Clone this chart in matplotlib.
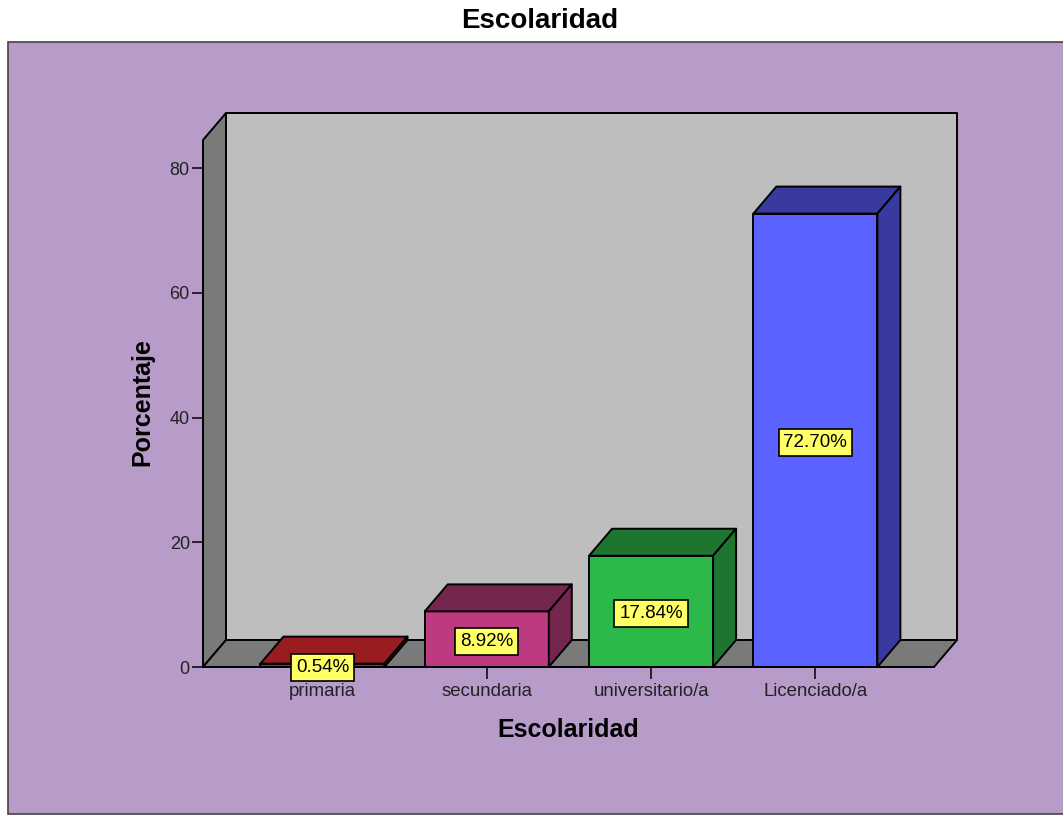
import matplotlib
matplotlib.use("Agg")
import matplotlib.pyplot as plt
from matplotlib.patches import Rectangle

plt.rcParams['font.family'] = ['Liberation Sans', 'DejaVu Sans']

categories = ['primaria', 'secundaria', 'universitario/a', 'Licenciado/a']
percentages = [0.54, 8.92, 17.84, 72.70]
y_ticks = [0, 20, 40, 60, 80]

front_colors = ['#C0201F', '#BC3A80', '#2DB84A', '#5C62FF']
shade_colors = ['#981C20', '#74264F', '#1E7530', '#383A9F']

W, H = 1063, 815
bar_width = 0.755
# depth of the fake 3D box, in data units
depth_x = 0.14
depth_y = 4.33

fig = plt.figure(figsize=(W / 100, H / 100), dpi=100, facecolor='white')

# purple chart area, kept behind the axes
fig.add_artist(Rectangle((8 / W, 1 / H), 1.1, (814 - 42) / H,
                         transform=fig.transFigure, facecolor='#B79BC9',
                         edgecolor='#444444', linewidth=1.2, zorder=-1))

# axes box covers the front face of the plot volume
ax = fig.add_axes([203 / W, (H - 667) / H, (934 - 203) / W, (667 - 140) / H])
ax.set_xlim(-0.727, 3.722)
ax.set_ylim(0, 84.5)
ax.patch.set_visible(False)
for s in ax.spines.values():
    s.set_visible(False)

x0, x1 = ax.get_xlim()
y0, y1 = ax.get_ylim()
edge = dict(edgecolor='black', linewidth=1.4, clip_on=False, joinstyle='round')

# back wall, left wall, floor
ax.fill([x0 + depth_x, x1 + depth_x, x1 + depth_x, x0 + depth_x],
        [y0 + depth_y, y0 + depth_y, y1 + depth_y, y1 + depth_y],
        facecolor='#BEBEBE', zorder=1, **edge)
ax.fill([x0, x0 + depth_x, x0 + depth_x, x0],
        [y0, y0 + depth_y, y1 + depth_y, y1],
        facecolor='#7A7A7A', zorder=1, **edge)
ax.fill([x0, x1, x1 + depth_x, x0 + depth_x],
        [y0, y0, y0 + depth_y, y0 + depth_y],
        facecolor='#7A7A7A', zorder=1, **edge)

# bars, left to right so the boxes overlap properly
for i, v in enumerate(percentages):
    l = i - bar_width / 2
    r = i + bar_width / 2
    ax.bar(i, v, width=bar_width, color=front_colors[i], edgecolor='black',
           linewidth=1.4, zorder=3, clip_on=False)
    ax.fill([l, r, r + depth_x, l + depth_x], [v, v, v + depth_y, v + depth_y],
            facecolor=shade_colors[i], zorder=3, **edge)
    ax.fill([r, r + depth_x, r + depth_x, r], [0, depth_y, v + depth_y, v],
            facecolor=shade_colors[i], zorder=3, **edge)
    ax.text(i, v / 2, '%.2f%%' % v, ha='center', va='center_baseline',
            fontsize=13.5, color='black', zorder=6,
            bbox=dict(boxstyle='square,pad=0.26', facecolor='#FFFF66',
                      edgecolor='black', linewidth=1.2))

ax.plot([x0, x1], [0, 0], color='black', lw=1.4, zorder=4, clip_on=False)

ax.set_xticks(range(len(categories)))
ax.set_xticklabels(categories)
ax.set_yticks(y_ticks)
ax.tick_params(axis='x', length=8.5, width=1.1, pad=3, labelsize=13.4,
               labelcolor='#222222')
ax.tick_params(axis='y', length=8, width=1.1, pad=1.5, labelsize=13,
               labelcolor='#222222')

fig.text(540 / W, 1 - 21 / H, 'Escolaridad', ha='center', va='center',
         fontsize=20, fontweight='bold')
fig.text(568 / W, 1 - 730 / H, 'Escolaridad', ha='center', va='center',
         fontsize=18, fontweight='bold')
fig.text(142 / W, 1 - 402 / H, 'Porcentaje', ha='center', va='center',
         rotation=90, fontsize=18, fontweight='bold')

fig.savefig('out.png', dpi=100)
